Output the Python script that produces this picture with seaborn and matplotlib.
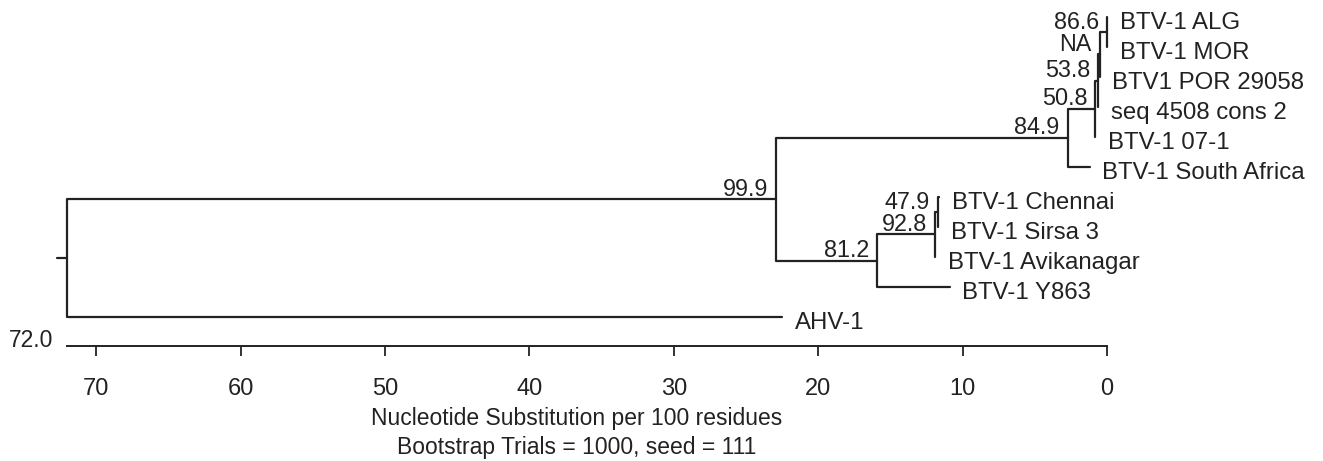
import matplotlib
matplotlib.use('Agg')
import matplotlib.pyplot as plt
import numpy as np
import pandas as pd
import seaborn as sns

# leaves, top to bottom, with the distance (from the right edge) where each tip ends
leaf_names = ['BTV-1 ALG', 'BTV-1 MOR', 'BTV1 POR 29058', 'seq 4508 cons 2', 'BTV-1 07-1',
              'BTV-1 South Africa', 'BTV-1 Chennai', 'BTV-1 Sirsa 3', 'BTV-1 Avikanagar',
              'BTV-1 Y863', 'AHV-1']
leaf_heights = [0.0, 0.0, 0.5, 0.6, 0.8, 1.2, 11.6, 11.7, 11.9, 10.9, 22.5]

# internal nodes (children listed before parents)
node_names = ['n1', 'n2', 'n3', 'n4', 'n5', 'n6', 'n7', 'n8', 'n9', 'root']
node_children = [('BTV-1 ALG', 'BTV-1 MOR'), ('n1', 'BTV1 POR 29058'), ('n2', 'seq 4508 cons 2'),
                 ('n3', 'BTV-1 07-1'), ('n4', 'BTV-1 South Africa'), ('BTV-1 Chennai', 'BTV-1 Sirsa 3'),
                 ('n6', 'BTV-1 Avikanagar'), ('n7', 'BTV-1 Y863'), ('n5', 'n8'), ('n9', 'AHV-1')]
node_heights = [0.0, 0.5, 0.6, 0.8, 2.7, 11.7, 11.9, 15.9, 22.9, 72.0]
node_support = ['86.6', 'NA', '53.8', '50.8', '84.9', '47.9', '92.8', '81.2', '99.9', None]

scale_ticks = [0, 10, 20, 30, 40, 50, 60, 70]
scale_max = 72.0
xlabel_text = 'Nucleotide Substitution per 100 residues'
footer_text = 'Bootstrap Trials = 1000, seed = 111'

INK = '#222222'

sns.set_theme(style='white')
plt.rcParams['font.family'] = ['Liberation Sans', 'DejaVu Sans']


def layout_tree():
    pos = {}
    for i, (name, h) in enumerate(zip(leaf_names, leaf_heights)):
        pos[name] = (h, float(i))
    for name, kids, h in zip(node_names, node_children, node_heights):
        ys = [pos[k][1] for k in kids]
        pos[name] = (h, np.mean(ys))
    return pos


def tree_segments(pos):
    rows = []
    seg = 0
    for name, kids in zip(node_names, node_children):
        hx, hy = pos[name]
        for k in kids:
            cx, cy = pos[k]
            for j, (x, y) in enumerate([(hx, hy), (hx, cy), (cx, cy)]):
                rows.append({'seg': seg, 'x': x, 'y': y, 'order': j})
            seg += 1
    # little stub on the left of the root
    rx, ry = pos['root']
    for j, (x, y) in enumerate([(rx + 0.7, ry), (rx, ry)]):
        rows.append({'seg': seg, 'x': x, 'y': y, 'order': j})
    return pd.DataFrame(rows)


pos = layout_tree()
df = tree_segments(pos)

fig = plt.figure(figsize=(13.23, 4.61), dpi=100)
ax = fig.add_axes([0, 0, 1, 1])

sns.lineplot(data=df, x='x', y='y', units='seg', estimator=None, sort=False,
             color=INK, linewidth=1.6, ax=ax, legend=False)

# pixel-matched limits: 0 sits at x=1107px, 14.44 px per unit; leaf rows 30px apart
ax.set_xlim(1107 / 14.44, (1107 - 1323) / 14.44)
ax.set_ylim((461 - 17) / 30, -17 / 30)

fs = 16.5
leaf_fs = 17.3
for name in leaf_names:
    x, y = pos[name]
    ax.annotate(name, (x, y), xytext=(9, -8.5), textcoords='offset points',
                ha='left', va='baseline', fontsize=leaf_fs, color=INK)

for name, sup in zip(node_names, node_support):
    if sup is None:
        continue
    x, y = pos[name]
    ax.annotate(sup, (x, y), xytext=(-6, 2.5), textcoords='offset points',
                ha='right', va='baseline', fontsize=fs + 0.3, color=INK)

# scale axis
axis_y = (346 - 17) / 30
for s in ['top', 'right', 'left']:
    ax.spines[s].set_visible(False)
ax.spines['bottom'].set_position(('data', axis_y))
ax.spines['bottom'].set_bounds(0, scale_max)
ax.spines['bottom'].set_color(INK)
ax.spines['bottom'].set_linewidth(1.4)
ax.set_xticks(scale_ticks)
ax.set_xticklabels([str(t) for t in scale_ticks])
ax.tick_params(axis='x', bottom=True, direction='out', length=7.2, width=1.3,
               pad=16, labelsize=17, colors=INK)
ax.set_yticks([])
ax.set_xlabel('')
ax.set_ylabel('')

ax.annotate(f'{scale_max:.1f}', (scale_max, axis_y), xytext=(-10, -1), textcoords='offset points',
            ha='right', va='baseline', fontsize=fs, color=INK)

mid = (1107 - 577) / 14.44
ax.text(mid, (418 - 17) / 30, xlabel_text, ha='center', va='center', fontsize=fs, color=INK)
ax.text(mid, (447 - 17) / 30, footer_text, ha='center', va='center', fontsize=fs, color=INK)

fig.savefig('out.png', dpi=100, facecolor='white')
